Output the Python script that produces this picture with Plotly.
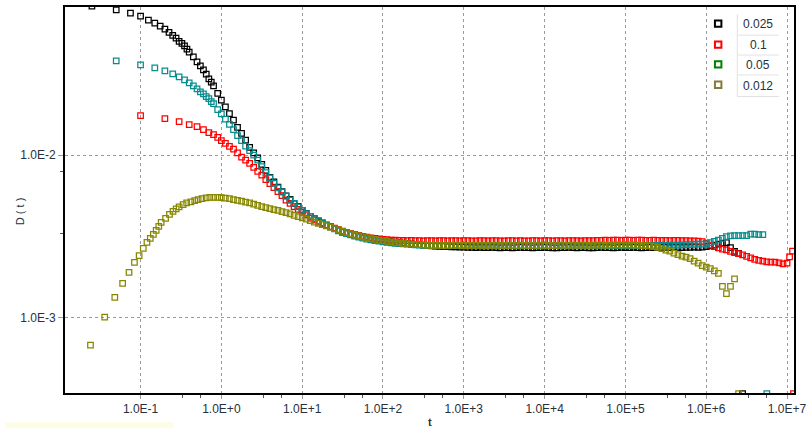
import plotly.graph_objects as go

# ---------------------------------------------------------------------------
# D(t) for four time steps (0.025, 0.1, 0.05, 0.012).
# Each run starts with its own evenly stepped outputs, then continues on a
# common logarithmic output schedule (t_tail).
# ---------------------------------------------------------------------------

t_tail = [
    1.0, 1.122, 1.259, 1.413, 1.585, 1.778, 1.995, 2.239, 2.512, 2.818,
    3.162, 3.548, 3.981, 4.467, 5.012, 5.623, 6.31, 7.079, 7.943, 8.913,
    10.0, 11.22, 12.59, 14.13, 15.85, 17.78, 19.95, 22.39, 25.12, 28.18,
    31.62, 35.48, 39.81, 44.67, 50.12, 56.23, 63.1, 70.79, 79.43, 89.13,
    100.0, 112.2, 125.9, 141.3, 158.5, 177.8, 199.5, 223.9, 251.2, 281.8,
    316.2, 354.8, 398.1, 446.7, 501.2, 562.3, 631.0, 707.9, 794.3, 891.3,
    1.0e3, 1.122e3, 1.259e3, 1.413e3, 1.585e3, 1.778e3, 1.995e3, 2.239e3, 2.512e3, 2.818e3,
    3.162e3, 3.548e3, 3.981e3, 4.467e3, 5.012e3, 5.623e3, 6.31e3, 7.079e3, 7.943e3, 8.913e3,
    1.0e4, 1.122e4, 1.259e4, 1.413e4, 1.585e4, 1.778e4, 1.995e4, 2.239e4, 2.512e4, 2.818e4,
    3.162e4, 3.548e4, 3.981e4, 4.467e4, 5.012e4, 5.623e4, 6.31e4, 7.079e4, 7.943e4, 8.913e4,
    1.0e5, 1.122e5, 1.259e5, 1.413e5, 1.585e5, 1.778e5, 1.995e5, 2.239e5, 2.512e5, 2.818e5,
    3.162e5, 3.548e5, 3.981e5, 4.467e5, 5.012e5, 5.623e5, 6.31e5, 7.079e5, 7.943e5, 8.913e5,
    1.0e6, 1.122e6, 1.259e6, 1.413e6, 1.585e6, 1.778e6, 1.995e6, 2.239e6, 2.512e6, 2.818e6,
    3.162e6, 3.548e6, 3.981e6, 4.467e6, 5.012e6, 5.623e6, 6.31e6, 7.079e6, 7.943e6, 8.913e6,
    1.0e7,
]

# --- dt = 0.025 ------------------------------------------------------------
t_black_head = [0.025, 0.05, 0.075, 0.1, 0.125, 0.15, 0.175, 0.2, 0.225, 0.25,
                0.275, 0.3, 0.325, 0.35, 0.375, 0.4, 0.45, 0.5, 0.55, 0.6,
                0.65, 0.7, 0.75, 0.8, 0.9]
d_black_head = [0.0826, 0.0783, 0.0748, 0.0717, 0.0677, 0.0650, 0.0623, 0.0597, 0.0569, 0.0546,
                0.0526, 0.0501, 0.0488, 0.0470, 0.0450, 0.0431, 0.0402, 0.0375, 0.0354, 0.0335,
                0.0315, 0.0295, 0.0281, 0.0267, 0.0240]
d_black_tail = [
    0.02178, 0.01982, 0.01803, 0.01643, 0.01484, 0.01360, 0.01236, 0.01116, 0.01033, 0.00961,
    0.00877, 0.00806, 0.00730, 0.00684, 0.00636, 0.00595, 0.00561, 0.00534, 0.00503, 0.00484,
    0.00457, 0.00437, 0.00420, 0.00406, 0.00394, 0.00382, 0.00371, 0.00362, 0.00352, 0.00344,
    0.00335, 0.00331, 0.00326, 0.00321, 0.00318, 0.00314, 0.00310, 0.00307, 0.00304, 0.00301,
    0.00298, 0.00295, 0.00293, 0.00291, 0.00289, 0.00287, 0.00285, 0.00284, 0.00282, 0.00281,
    0.00279, 0.00277, 0.00276, 0.00275, 0.00274, 0.00274, 0.00273, 0.00272, 0.00272, 0.00271,
    0.00271, 0.00270, 0.00270, 0.00269, 0.00270, 0.00269, 0.00269, 0.00270, 0.00269, 0.00268,
    0.00269, 0.00269, 0.00268, 0.00269, 0.00270, 0.00269, 0.00269, 0.00268, 0.00269, 0.00269,
    0.00270, 0.00269, 0.00268, 0.00268, 0.00269, 0.00269, 0.00270, 0.00269, 0.00268, 0.00269,
    0.00269, 0.00268, 0.00268, 0.00269, 0.00270, 0.00269, 0.00269, 0.00268, 0.00269, 0.00270,
    0.00269, 0.00269, 0.00270, 0.00269, 0.00268, 0.00269, 0.00270, 0.00269, 0.00269, 0.00270,
    0.00270, 0.00269, 0.00270, 0.00270, 0.00269, 0.00270, 0.00270, 0.00271, 0.00270, 0.00271,
    0.00273, 0.00276, 0.00279, 0.00283, 0.00287, 0.00289, 0.00269, 0.00255, 0.00248, 0.00034,
]

# --- dt = 0.1 --------------------------------------------------------------
t_red_head = [0.1, 0.2, 0.3, 0.4, 0.5, 0.6, 0.7, 0.8, 0.9]
d_red_head = [0.01750, 0.01678, 0.01608, 0.01542, 0.01499, 0.01437, 0.01377, 0.01339, 0.01284]
d_red_tail = [
    0.01230, 0.01179, 0.01132, 0.01088, 0.01031, 0.00972, 0.00932, 0.00890, 0.00841, 0.00795,
    0.00754, 0.00706, 0.00667, 0.00630, 0.00595, 0.00562, 0.00529, 0.00504, 0.00482, 0.00464,
    0.00446, 0.00429, 0.00409, 0.00399, 0.00387, 0.00379, 0.00371, 0.00363, 0.00355, 0.00347,
    0.00340, 0.00334, 0.00328, 0.00324, 0.00319, 0.00316, 0.00312, 0.00309, 0.00307, 0.00305,
    0.00303, 0.00302, 0.00300, 0.00299, 0.00298, 0.00298, 0.00297, 0.00298, 0.00297, 0.00297,
    0.00296, 0.00297, 0.00297, 0.00296, 0.00297, 0.00297, 0.00296, 0.00297, 0.00297, 0.00296,
    0.00297, 0.00297, 0.00296, 0.00296, 0.00297, 0.00297, 0.00296, 0.00297, 0.00297, 0.00296,
    0.00296, 0.00297, 0.00297, 0.00296, 0.00297, 0.00296, 0.00296, 0.00297, 0.00297, 0.00296,
    0.00297, 0.00297, 0.00296, 0.00297, 0.00297, 0.00296, 0.00297, 0.00297, 0.00297, 0.00296,
    0.00297, 0.00297, 0.00297, 0.00298, 0.00298, 0.00299, 0.00298, 0.00299, 0.00299, 0.00298,
    0.00299, 0.00299, 0.00298, 0.00299, 0.00299, 0.00298, 0.00298, 0.00299, 0.00298, 0.00298,
    0.00298, 0.00297, 0.00298, 0.00298, 0.00297, 0.00297, 0.00296, 0.00296, 0.00295, 0.00293,
    0.00287, 0.00279, 0.00273, 0.00268, 0.00264, 0.00261, 0.00255, 0.00251, 0.00247, 0.00243,
    0.00238, 0.00233, 0.00228, 0.00225, 0.00222, 0.00220, 0.00219, 0.00219, 0.00217, 0.00214,
    0.00216,
]
t_red_end = [1.074e7, 1.17e7, 1.2e7]
d_red_end = [0.00236, 0.00256, 0.00034]

# --- dt = 0.05 -------------------------------------------------------------
t_teal_head = [0.05, 0.1, 0.15, 0.2, 0.25, 0.3, 0.35, 0.4, 0.45, 0.5,
               0.55, 0.6, 0.65, 0.7, 0.75, 0.8, 0.9]
d_teal_head = [0.03801, 0.03592, 0.03443, 0.03302, 0.03165, 0.03033, 0.02908, 0.02787, 0.02672, 0.02561,
               0.02455, 0.02386, 0.02288, 0.02224, 0.02132, 0.02073, 0.01904]
d_teal_tail = [
    0.01795, 0.01666, 0.01548, 0.01433, 0.01320, 0.01226, 0.01135, 0.01066, 0.01000, 0.00932,
    0.00850, 0.00780, 0.00723, 0.00669, 0.00629, 0.00592, 0.00558, 0.00529, 0.00504, 0.00480,
    0.00456, 0.00436, 0.00420, 0.00406, 0.00393, 0.00381, 0.00370, 0.00361, 0.00351, 0.00342,
    0.00334, 0.00328, 0.00323, 0.00317, 0.00312, 0.00308, 0.00304, 0.00301, 0.00297, 0.00295,
    0.00292, 0.00290, 0.00288, 0.00286, 0.00285, 0.00284, 0.00283, 0.00281, 0.00280, 0.00279,
    0.00278, 0.00277, 0.00277, 0.00276, 0.00277, 0.00277, 0.00276, 0.00277, 0.00278, 0.00277,
    0.00276, 0.00277, 0.00277, 0.00278, 0.00277, 0.00276, 0.00277, 0.00277, 0.00276, 0.00277,
    0.00277, 0.00278, 0.00277, 0.00276, 0.00277, 0.00277, 0.00278, 0.00277, 0.00276, 0.00277,
    0.00276, 0.00277, 0.00277, 0.00278, 0.00277, 0.00277, 0.00276, 0.00277, 0.00277, 0.00278,
    0.00277, 0.00276, 0.00277, 0.00277, 0.00278, 0.00277, 0.00277, 0.00276, 0.00277, 0.00278,
    0.00277, 0.00277, 0.00278, 0.00277, 0.00278, 0.00278, 0.00277, 0.00278, 0.00278, 0.00279,
    0.00278, 0.00279, 0.00279, 0.00279, 0.00280, 0.00281, 0.00281, 0.00282, 0.00283, 0.00283,
    0.00284, 0.00289, 0.00294, 0.00300, 0.00307, 0.00315, 0.00318, 0.00319, 0.00319, 0.00319,
    0.00319, 0.00326, 0.00326, 0.00324, 0.00324, 0.00034,
]

# --- dt = 0.012 ------------------------------------------------------------
t_olive_head = [0.024, 0.036, 0.048, 0.06, 0.072, 0.084, 0.096, 0.108, 0.12, 0.132,
                0.144, 0.156, 0.168, 0.18, 0.204, 0.228, 0.252, 0.276, 0.3, 0.336,
                0.372, 0.42, 0.468, 0.516, 0.576, 0.648, 0.72, 0.804, 0.9]
d_olive_head = [6.77e-4, 1.004e-3, 1.331e-3, 1.622e-3, 1.894e-3, 2.181e-3, 2.407e-3, 2.668e-3, 2.904e-3, 3.073e-3,
                3.251e-3, 3.440e-3, 3.640e-3, 3.851e-3, 4.073e-3, 4.310e-3, 4.496e-3, 4.670e-3, 4.804e-3, 4.955e-3,
                5.083e-3, 5.155e-3, 5.243e-3, 5.325e-3, 5.401e-3, 5.455e-3, 5.485e-3, 5.501e-3, 5.493e-3]
d_olive_tail = [
    5.47e-3, 5.44e-3, 5.39e-3, 5.32e-3, 5.265e-3, 5.21e-3, 5.13e-3, 5.08e-3, 4.997e-3, 4.907e-3,
    4.817e-3, 4.75e-3, 4.69e-3, 4.624e-3, 4.56e-3, 4.48e-3, 4.43e-3, 4.35e-3, 4.26e-3, 4.18e-3,
    4.10e-3, 4.03e-3, 3.955e-3, 3.87e-3, 3.80e-3, 3.725e-3, 3.66e-3, 3.597e-3, 3.52e-3, 3.46e-3,
    3.386e-3, 3.33e-3, 3.27e-3, 3.22e-3, 3.18e-3, 3.14e-3, 3.10e-3, 3.065e-3, 3.03e-3, 3.00e-3,
    2.97e-3, 2.95e-3, 2.92e-3, 2.90e-3, 2.88e-3, 2.86e-3, 2.85e-3, 2.83e-3, 2.82e-3, 2.81e-3,
    2.80e-3, 2.79e-3, 2.78e-3, 2.79e-3, 2.78e-3, 2.77e-3, 2.78e-3, 2.78e-3, 2.79e-3, 2.78e-3,
    2.77e-3, 2.78e-3, 2.78e-3, 2.79e-3, 2.78e-3, 2.78e-3, 2.77e-3, 2.78e-3, 2.79e-3, 2.78e-3,
    2.78e-3, 2.77e-3, 2.78e-3, 2.78e-3, 2.79e-3, 2.78e-3, 2.77e-3, 2.78e-3, 2.78e-3, 2.79e-3,
    2.78e-3, 2.78e-3, 2.77e-3, 2.78e-3, 2.79e-3, 2.78e-3, 2.78e-3, 2.79e-3, 2.78e-3, 2.79e-3,
    2.79e-3, 2.78e-3, 2.79e-3, 2.79e-3, 2.80e-3, 2.79e-3, 2.79e-3, 2.80e-3, 2.80e-3, 2.80e-3,
    2.80e-3, 2.80e-3, 2.80e-3, 2.79e-3, 2.78e-3, 2.77e-3, 2.76e-3, 2.73e-3, 2.70e-3, 2.656e-3,
    2.60e-3, 2.565e-3, 2.49e-3, 2.44e-3, 2.39e-3, 2.357e-3, 2.307e-3, 2.227e-3, 2.159e-3, 2.09e-3,
    2.046e-3, 2.003e-3, 1.939e-3, 1.872e-3, 1.555e-3, 1.403e-3, 1.555e-3, 1.732e-3, 3.4e-4,
]

legend_labels = ["0.025", "0.1", "0.05", "0.012"]
legend_colors = ["#000000", "#ff0000", "#008000", "#857a3c"]

x_tickvals = [0.1, 1, 10, 100, 1e3, 1e4, 1e5, 1e6, 1e7]
x_ticktext = ["1.0E-1", "1.0E+0", "1.0E+1", "1.0E+2", "1.0E+3",
              "1.0E+4", "1.0E+5", "1.0E+6", "1.0E+7"]
y_tickvals = [1e-3, 1e-2]
y_ticktext = ["1.0E-3", "1.0E-2"]
x_minor = [0.33, 0.55, 3.3, 5.5, 33, 55, 330, 550, 3.3e3, 5.5e3,
           3.3e4, 5.5e4, 3.3e5, 5.5e5, 3.3e6, 5.5e6]
y_minor = [3.27e-3, 7.87e-3]

series = [
    (t_black_head + t_tail[:len(d_black_tail)], d_black_head + d_black_tail, "#000000"),
    (t_red_head + t_tail[:len(d_red_tail)] + t_red_end, d_red_head + d_red_tail + d_red_end, "#ff0000"),
    (t_teal_head + t_tail[:len(d_teal_tail)], d_teal_head + d_teal_tail, "#068d8d"),
    (t_olive_head + t_tail[:len(d_olive_tail)], d_olive_head + d_olive_tail, "#878700"),
]

fig = go.Figure()
for tx, dy, col in series:
    fig.add_trace(go.Scatter(
        x=tx, y=dy, mode="markers",
        marker=dict(symbol="square-open", size=5.5, color=col, line=dict(width=1.25, color=col)),
        cliponaxis=True, showlegend=False, hoverinfo="x+y",
    ))

# plot-area frame in pixels
PL, PR, PT, PB = 65, 798, 5, 393
W, H = 812, 428


def fx(px):
    return (px - PL) / (PR - PL)


def fy(py):
    return (PB - py) / (PB - PT)


tick_font = dict(family="Liberation Sans, Arial, sans-serif", size=12, color="#28303c")
grid = dict(showgrid=True, gridcolor="#9a9a9a", gridwidth=1, griddash="3px,3px")

fig.update_layout(
    width=W, height=H,
    margin=dict(l=PL, r=W - PR, t=PT, b=H - PB),
    paper_bgcolor="white", plot_bgcolor="white",
    showlegend=False,
    xaxis=dict(
        type="log", range=[-1.935, 7.086],
        tickmode="array", tickvals=x_tickvals, ticktext=x_ticktext,
        ticks="outside", ticklen=4, tickcolor="#9a9a9a", tickwidth=1,
        showline=True, linecolor="black", linewidth=2, mirror=True,
        zeroline=False, tickfont=tick_font,
        minor=dict(tickmode="array", tickvals=x_minor, ticks="outside",
                   ticklen=3, tickcolor="#555555", showgrid=False),
        **grid,
    ),
    yaxis=dict(
        type="log", range=[-3.465, -1.088],
        tickmode="array", tickvals=y_tickvals, ticktext=y_ticktext,
        ticks="outside", ticklen=5, tickcolor="#9a9a9a", tickwidth=1,
        showline=True, linecolor="black", linewidth=2, mirror=True,
        zeroline=False, tickfont=tick_font,
        minor=dict(tickmode="array", tickvals=y_minor, ticks="outside",
                   ticklen=3, tickcolor="#555555", showgrid=False),
        **grid,
    ),
)

annotations = [
    dict(text="<b>t</b>", x=fx(432), y=fy(422), xref="paper", yref="paper",
         showarrow=False, xanchor="center", yanchor="middle",
         font=dict(family="Liberation Sans, Arial, sans-serif", size=11, color="#28303c")),
    dict(text="D ( t )", x=fx(20), y=fy(210), xref="paper", yref="paper",
         showarrow=False, textangle=-90, xanchor="center", yanchor="middle",
         font=dict(family="Liberation Sans, Arial, sans-serif", size=11, color="#28303c")),
]

shapes = [
    # pale strip along the bottom-left edge
    dict(type="rect", xref="paper", yref="paper", x0=fx(5), x1=fx(174), y0=fy(428), y1=fy(422.5),
         fillcolor="#fdfde6", line=dict(width=0), layer="below"),
]

# legend table
row_y = [21.7, 42.8, 62.7, 83.2]
for lab, col, ry in zip(legend_labels, legend_colors, row_y):
    shapes.append(dict(type="rect", xref="paper", yref="paper",
                       x0=fx(718.5), x1=fx(725), y0=fy(ry + 3.2), y1=fy(ry - 3.2),
                       line=dict(color=col, width=2), fillcolor="rgba(0,0,0,0)"))
    annotations.append(dict(text=lab, x=fx(762), y=fy(ry + 0.8), xref="paper", yref="paper",
                            showarrow=False, xanchor="center", yanchor="middle",
                            font=dict(family="Liberation Sans, Arial, sans-serif", size=12,
                                      color="#28303c")))
sep = dict(color="#e2e2e2", width=1)
shapes.append(dict(type="line", xref="paper", yref="paper",
                   x0=fx(741), x1=fx(741), y0=fy(12), y1=fy(95), line=sep))
for hy in [33.3, 53.3, 73.3, 95]:
    shapes.append(dict(type="line", xref="paper", yref="paper",
                       x0=fx(741), x1=fx(783), y0=fy(hy), y1=fy(hy), line=sep))

fig.update_layout(annotations=annotations, shapes=shapes)

fig.write_html("out.html")
